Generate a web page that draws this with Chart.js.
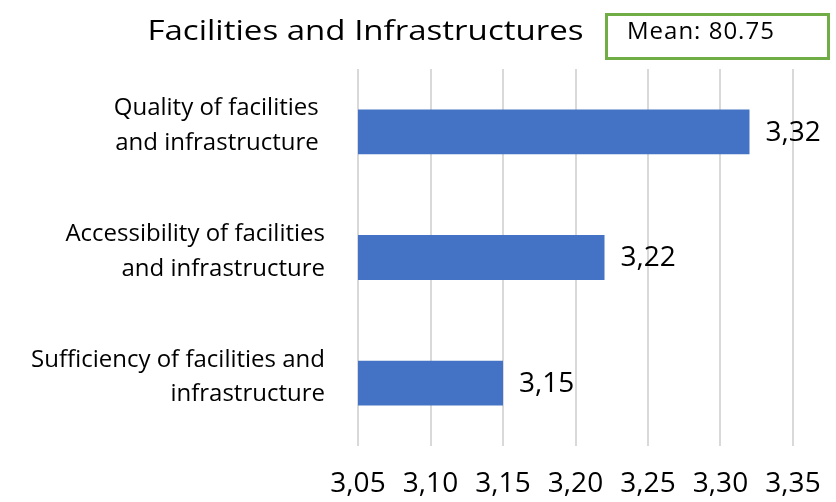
<!DOCTYPE html>
<html>
<head>
<meta charset="utf-8">
<title>Facilities and Infrastructures</title>
<script src="https://cdn.jsdelivr.net/npm/chart.js@4.4.1/dist/chart.umd.min.js"></script>
<style>
  html, body { margin: 0; padding: 0; background: #fff; }
  #wrap { width: 836px; height: 502px; }
</style>
</head>
<body>
<div id="wrap">
  <canvas id="facilitiesChart" width="836" height="502"></canvas>
</div>
<script>
// aspects (multi-line labels) and their mean scores
const aspects = [
  ["Quality of facilities ", "and infrastructure "],
  ["Accessibility of facilities", "and infrastructure"],
  ["Sufficiency of facilities and", "infrastructure"]
];
const scores = [3.32, 3.22, 3.15];
const axisTicks = [3.05, 3.10, 3.15, 3.20, 3.25, 3.30, 3.35];
const chartTitle = "Facilities and Infrastructures";
const meanText = "Mean: 80.75";

const FONT = "'Open Sans', sans-serif";
const commaFmt = v => Number(v).toFixed(2).replace(".", ",");

// title on the left, boxed mean on the right
const headerPlugin = {
  id: "header",
  afterDraw(chart) {
    const ctx = chart.ctx;
    ctx.save();
    ctx.fillStyle = "#000";
    ctx.textBaseline = "alphabetic";
    ctx.textAlign = "center";
    ctx.font = "28px " + FONT;
    // title text is a bit wider than the plain font
    ctx.translate(365.5, 40);
    ctx.scale(1.18, 1);
    ctx.fillText(chartTitle, 0, 0);
    ctx.restore();

    ctx.save();
    ctx.fillStyle = "#000";
    ctx.strokeStyle = "#70AD47";
    ctx.lineWidth = 3;
    ctx.strokeRect(606.5, 14.5, 222, 44);
    ctx.textAlign = "left";
    ctx.textBaseline = "alphabetic";
    ctx.font = "24px " + FONT;
    ctx.letterSpacing = "1px";
    ctx.fillText(meanText, 627, 39);
    ctx.restore();
  }
};

// value labels right of each bar
const valueLabels = {
  id: "valueLabels",
  afterDatasetsDraw(chart) {
    const ctx = chart.ctx;
    const meta = chart.getDatasetMeta(0);
    ctx.save();
    ctx.fillStyle = "#000";
    ctx.font = "28px " + FONT;
    ctx.textAlign = "left";
    ctx.textBaseline = "middle";
    meta.data.forEach((bar, i) => {
      ctx.fillText(commaFmt(scores[i]), bar.x + 16, bar.y + 1);
    });
    ctx.restore();
  }
};

new Chart(document.getElementById("facilitiesChart"), {
  type: "bar",
  data: {
    labels: aspects,
    datasets: [{
      data: scores,
      backgroundColor: "#4472C4",
      borderWidth: 0,
      barPercentage: 0.357,
      categoryPercentage: 1
    }]
  },
  options: {
    indexAxis: "y",
    responsive: false,
    animation: false,
    layout: { padding: { top: 69, right: 43, bottom: 0, left: 0 } },
    plugins: {
      legend: { display: false },
      tooltip: { enabled: false }
    },
    scales: {
      x: {
        min: axisTicks[0],
        max: axisTicks[axisTicks.length - 1],
        afterBuildTicks: scale => {
          scale.ticks = axisTicks.map(v => ({ value: v }));
        },
        afterFit: scale => {
          scale.height = 56;
          scale.paddingLeft = 0;
          scale.paddingRight = 0;
        },
        border: { display: false },
        grid: { color: "#d9d9d9", lineWidth: 2, drawTicks: false },
        ticks: {
          padding: 21,
          color: "#000",
          font: { family: FONT, size: 28 },
          callback: v => commaFmt(v)
        }
      },
      y: {
        afterFit: scale => {
          scale.width = 358;
          scale.paddingTop = 0;
          scale.paddingBottom = 0;
        },
        border: { display: false },
        grid: { display: false, drawTicks: false },
        ticks: {
          padding: 33,
          labelOffset: -6,
          color: "#000",
          font: { family: FONT, size: 24, lineHeight: 1.45 }
        }
      }
    }
  },
  plugins: [headerPlugin, valueLabels]
});
</script>
</body>
</html>
